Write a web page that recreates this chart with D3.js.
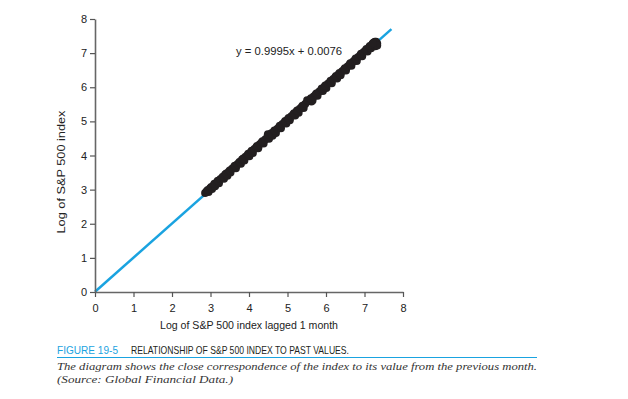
<!DOCTYPE html>
<html>
<head>
<meta charset="utf-8">
<script src="https://cdn.jsdelivr.net/npm/d3@7"></script>
<style>
  body { margin: 0; background: #fff; }
  text { font-family: "Liberation Sans", Arial, sans-serif; }
</style>
</head>
<body>
<div id="canvas"></div>
<script>
// monthly log values of the index (pairs are previous month vs this month)
const logIndex = [2.86, 2.90, 2.95, 2.93, 2.99, 3.04, 3.02, 3.08, 3.12, 3.10, 3.17, 3.22, 3.19, 3.26, 3.31,
  3.35, 3.32, 3.38, 3.44, 3.41, 3.47, 3.52, 3.50, 3.56, 3.61, 3.66, 3.63, 3.70, 3.74, 3.79, 3.76, 3.82,
  3.88, 3.85, 3.91, 3.96, 4.01, 3.98, 4.05, 4.10, 4.07, 4.14, 4.19, 4.24, 4.21, 4.28, 4.33, 4.38, 4.35,
  4.42, 4.47, 4.52, 4.49, 4.62, 4.61, 4.58, 4.65, 4.70, 4.66, 4.73, 4.78, 4.83, 4.80, 4.87, 4.92, 4.97,
  4.94, 5.01, 5.06, 5.03, 5.10, 5.15, 5.20, 5.17, 5.24, 5.29, 5.25, 5.32, 5.37, 5.42, 5.39, 5.46, 5.51,
  5.62, 5.58, 5.60, 5.65, 5.61, 5.68, 5.73, 5.78, 5.75, 5.82, 5.87, 5.92, 5.89, 5.96, 6.01, 5.98, 6.05,
  6.10, 6.15, 6.12, 6.19, 6.24, 6.29, 6.26, 6.33, 6.38, 6.35, 6.42, 6.47, 6.52, 6.49, 6.56, 6.61, 6.66,
  6.63, 6.70, 6.75, 6.80, 6.77, 6.84, 6.89, 6.94, 6.91, 6.98, 7.03, 7.08, 7.05, 7.12, 7.17, 7.14, 7.21,
  7.26, 7.23, 7.30, 7.33, 7.28, 7.20, 7.25, 7.31, 7.27, 7.33, 7.22, 7.29];

const fitX = [0, 7.7];
const slope = 0.9995, intercept = 0.0076;
const xTicks = [0, 1, 2, 3, 4, 5, 6, 7, 8];
const yTicks = [0, 1, 2, 3, 4, 5, 6, 7, 8];

const width = 628, height = 399;
const svg = d3.select("#canvas").append("svg")
  .attr("width", width).attr("height", height)
  .style("background", "#fff");

const x = d3.scaleLinear().domain([0, 8]).range([95, 403]);
const y = d3.scaleLinear().domain([0, 8]).range([292, 19]);

const pairs = logIndex.slice(1).map((v, i) => ({ lag: logIndex[i], cur: v }));

// fit line
svg.append("line")
  .attr("x1", x(fitX[0])).attr("y1", y(slope * fitX[0] + intercept))
  .attr("x2", x(fitX[1])).attr("y2", y(slope * fitX[1] + intercept))
  .attr("stroke", "#1aa3e0").attr("stroke-width", 2.5);

svg.append("g").selectAll("circle").data(pairs).enter().append("circle")
  .attr("cx", d => x(d.lag)).attr("cy", d => y(d.cur))
  .attr("r", 4).attr("fill", "#231f20");

const xAxis = svg.append("g").attr("transform", "translate(0,292)")
  .call(d3.axisBottom(x).tickValues(xTicks).tickSize(5).tickSizeOuter(0).tickPadding(7));
const yAxis = svg.append("g").attr("transform", "translate(95,0)")
  .call(d3.axisLeft(y).tickValues(yTicks).tickSize(5).tickSizeOuter(0).tickPadding(3));
[xAxis, yAxis].forEach(a => {
  a.select(".domain").attr("stroke", "#666").attr("stroke-width", 1.6);
  a.selectAll(".tick line").attr("stroke", "#555").attr("stroke-width", 1.2);
  a.selectAll(".tick text").attr("fill", "#222").style("font-size", "11px")
    .style("font-family", "'Liberation Sans', sans-serif");
});

svg.append("text").attr("x", 249).attr("y", 329).attr("text-anchor", "middle")
  .attr("fill", "#222").style("font-size", "10.5px")
  .attr("textLength", 178).attr("lengthAdjust", "spacingAndGlyphs")
  .text("Log of S&P 500 index lagged 1 month");

svg.append("text").attr("transform", "translate(65,172) rotate(-90)")
  .attr("text-anchor", "middle").attr("fill", "#222").style("font-size", "10.5px")
  .attr("textLength", 123).attr("lengthAdjust", "spacingAndGlyphs")
  .text("Log of S&P 500 index");

svg.append("text").attr("x", 236).attr("y", 55)
  .attr("fill", "#222").style("font-size", "10.5px")
  .attr("textLength", 106).attr("lengthAdjust", "spacingAndGlyphs")
  .text("y = 0.9995x + 0.0076");

// caption
svg.append("text").attr("x", 57).attr("y", 354)
  .attr("fill", "#1aa3e0").style("font-size", "11px")
  .attr("textLength", 61).attr("lengthAdjust", "spacingAndGlyphs")
  .text("FIGURE 19-5");
svg.append("text").attr("x", 131).attr("y", 354)
  .attr("fill", "#231f20").style("font-size", "11px")
  .attr("textLength", 218).attr("lengthAdjust", "spacingAndGlyphs")
  .text("RELATIONSHIP OF S&P 500 INDEX TO PAST VALUES.");
svg.append("line").attr("x1", 57).attr("x2", 537).attr("y1", 357.5).attr("y2", 357.5)
  .attr("stroke", "#1aa3e0").attr("stroke-width", 1);
svg.append("text").attr("x", 57).attr("y", 370)
  .attr("fill", "#333").style("font-family", "'Liberation Serif', serif").style("font-style", "italic")
  .style("font-size", "11px")
  .attr("textLength", 480).attr("lengthAdjust", "spacingAndGlyphs")
  .text("The diagram shows the close correspondence of the index to its value from the previous month.");
svg.append("text").attr("x", 57).attr("y", 383)
  .attr("fill", "#333").style("font-family", "'Liberation Serif', serif").style("font-style", "italic")
  .style("font-size", "11px")
  .attr("textLength", 176).attr("lengthAdjust", "spacingAndGlyphs")
  .text("(Source: Global Financial Data.)");
</script>
</body>
</html>
